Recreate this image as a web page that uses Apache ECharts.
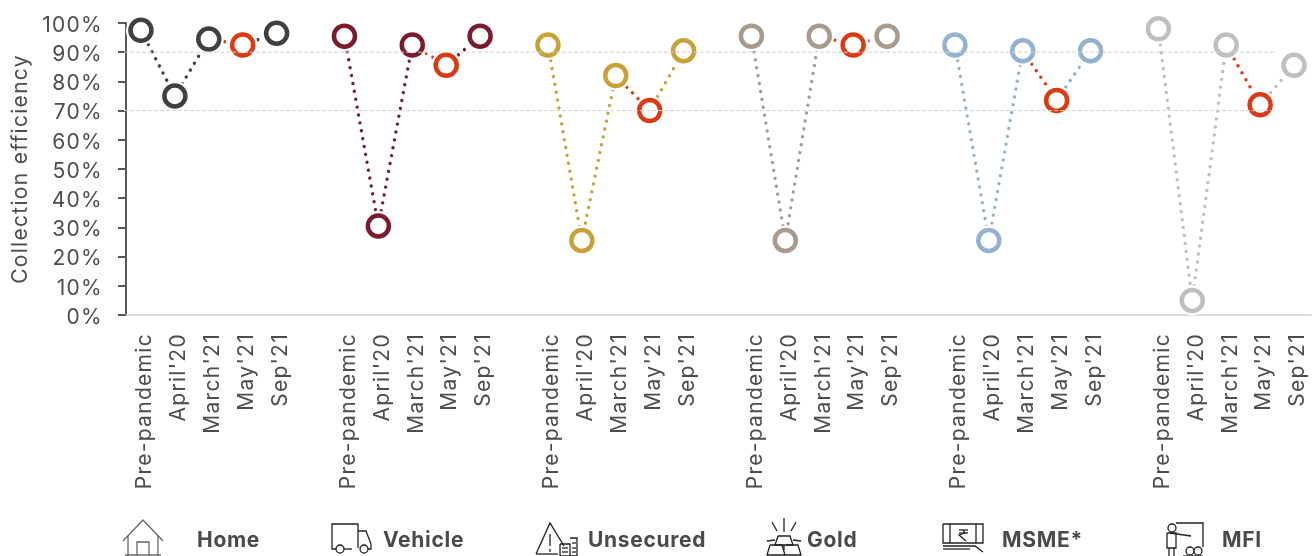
<!DOCTYPE html>
<html><head><meta charset="utf-8">
<style>html,body{margin:0;padding:0;background:#fff}#c{width:1315px;height:556px}</style>
<script src="https://cdn.jsdelivr.net/npm/echarts@6/dist/echarts.min.js"></script>
</head><body><div id="c"></div>
<script>
const periods = ["Pre-pandemic","April'20","March'21","May'21","Sep'21"];
const groupNames = ["Home","Vehicle","Unsecured","Gold","MSME*","MFI"];
const home = [97.5,75,94.5,92.5,96.5];
const vehicle = [95.5,30.5,92.5,85.5,95.5];
const unsecured = [92.5,25.5,82,70,90.5];
const gold = [95.5,25.5,95.5,92.5,95.5];
const msme = [92.5,25.5,90.5,73.5,90.5];
const mfi = [98,5,92.5,72,85.5];
const groupValues = [home,vehicle,unsecured,gold,msme,mfi];
const groupColors = ["#404040","#7B1C2E","#C9A237","#A89B8C","#92B2D0","#BFBFBF"];
const highlightColor = "#DC3A12";
const thresholds = [90,70];
const FONT = "Inter";
const TXT = "#4D4D4D";

// the reference's type is tracked out: apply letter spacing to canvas text
const nativeFillText = CanvasRenderingContext2D.prototype.fillText;
CanvasRenderingContext2D.prototype.fillText = function(t,x,y,m){
  this.letterSpacing = /bold|700/.test(this.font) ? '0.7px' : '1.3px';
  return m===undefined ? nativeFillText.call(this,t,x,y) : nativeFillText.call(this,t,x,y,m);
};

const slots = 6;
const categories = [];
groupNames.forEach((g,i)=>{ periods.forEach(p=>categories.push(p)); if(i<groupNames.length-1) categories.push(""); });

const series = [];
const dotted = c => ({color:c,width:3.4,type:[0.01,8],cap:'round'});
function seg(vals,g,a,b,color){
  const d=[]; for(let k=a;k<=b;k++) d.push([g*slots+k,vals[k]]);
  series.push({type:'line',data:d,showSymbol:false,silent:true,z:2,lineStyle:dotted(color)});
}
groupValues.forEach((vals,g)=>{
  seg(vals,g,0,2,groupColors[g]);
  seg(vals,g,2,3,highlightColor);
  seg(vals,g,3,4,groupColors[g]);
  const pts = vals.map((v,k)=>[g*slots+k,v]);
  series.push({type:'scatter',data:pts,symbolSize:30,silent:true,z:3,itemStyle:{color:'#fff',opacity:1}});
  series.push({type:'scatter',data:pts.map((p,k)=>({value:p,itemStyle:{borderColor:k===3?highlightColor:groupColors[g]}})),
    symbol:'circle',symbolSize:21,silent:true,z:4,itemStyle:{color:'rgba(255,255,255,0)',borderWidth:4.5,opacity:1}});
});
thresholds.forEach(t=>{
  series.push({type:'line',xAxisIndex:1,yAxisIndex:0,data:[[0,t],[0.971,t]],showSymbol:false,silent:true,z:5,
    lineStyle:{color:'#D4D4D4',width:1,type:[4,2]}});
});

const dark = "#222";
const icons = [
 {c:'#666',lines:[[[123,541],[143,520],[163,541]],[[128,536],[128,556]],[[158,536],[158,556]],[[125,555],[161,555]],[[137,556],[137,542],[149,542],[149,556]]],rings:[]},
 {c:dark,lines:[[[336,549],[332,549],[332,524],[358,524],[358,548]],[[344,549],[352,549]],[[358,531],[366,531],[371,544],[371,549],[368,549]]],rings:[[340,549,4],[364,549,4]]},
 {c:dark,lines:[[[536,554],[550,523],[564,546]],[[536,554],[558,554]],[[550,534],[550,546]],[[550,549],[550,552]],[[560,544],[570,544],[570,556],[560,556],[560,544]],[[570,538],[577,538],[577,556],[570,556]],[[562,548],[568,548]],[[562,552],[568,552]],[[572,543],[576,543]],[[572,548],[576,548]],[[572,552],[576,552]]],rings:[]},
 {c:dark,lines:[[[784,518],[784,532]],[[772,522],[777,531]],[[796,522],[791,531]],[[767,541],[775,540]],[[801,541],[793,540]],[[778,536],[790,536],[793,545],[775,545],[778,536]],[[770,545],[782,545],[785,555],[767,555],[770,545]],[[786,545],[798,545],[801,555],[785,555]],[[784,545],[784,550]]],rings:[]},
 {c:dark,lines:[[[943,524],[983,524],[983,543],[943,543],[943,524]],[[950,524],[950,543]],[[976,524],[976,543]],[[943,546],[975,546],[983,552]],[[943,549],[970,549]],[[959,530],[968,530]],[[959,533],[968,533]],[[963,530],[965,533],[959,535],[966,541]]],rings:[]},
 {c:dark,lines:[[[1176,523],[1203,523],[1203,547]],[[1170,533],[1191,536]],[[1167,533],[1176,533],[1176,548],[1167,548],[1167,533]],[[1169,548],[1169,556]],[[1174,548],[1174,556]],[[1183,556],[1203,556]]],rings:[[1172,528,4],[1190,551,4],[1198,551,4]]}
];
const labelX = [197,383,588,807,1002,1222];
const graphics = [];
icons.forEach(ic=>{
  ic.lines.forEach(pts=>graphics.push({type:'polyline',silent:true,shape:{points:pts},style:{fill:null,stroke:ic.c,lineWidth:1.3}}));
  ic.rings.forEach(r=>graphics.push({type:'circle',silent:true,shape:{cx:r[0],cy:r[1],r:r[2]},style:{fill:'#fff',stroke:ic.c,lineWidth:1.3}}));
});
groupNames.forEach((n,i)=>graphics.push({type:'text',silent:true,x:labelX[i],y:541,
  style:{text:n,fill:'#4A4A4A',font:'bold 21px "'+FONT+'"',textVerticalAlign:'middle'}}));

const chart = echarts.init(document.getElementById('c'),null,{renderer:'canvas'});
chart.setOption({
  animation:false,backgroundColor:'#fff',
  grid:{left:124,top:23,width:1187,height:292},
  xAxis:[
    {type:'category',data:categories,boundaryGap:true,position:'bottom',
     axisLine:{lineStyle:{color:'#D9D9D9',width:2}},axisTick:{show:false},
     axisLabel:{interval:0,rotate:90,margin:18,
       formatter:v=>v?'{a|'+v+'}':'',
       rich:{a:{fontFamily:FONT,fontSize:21,color:TXT,padding:[8,0,0,0]}}}},
    {type:'value',min:0,max:1,show:false}
  ],
  yAxis:{type:'value',min:0,max:100,interval:10,offset:-2,
    axisLine:{show:true,lineStyle:{color:'#595959',width:2}},
    axisTick:{show:true,length:8,lineStyle:{color:'#595959',width:2}},
    axisLabel:{margin:23,formatter:'{a|{value}%}',
       rich:{a:{fontFamily:FONT,fontSize:21,color:TXT,padding:[5,0,0,0]}}},
    splitLine:{show:false},
    name:'Collection efficiency',nameLocation:'middle',nameGap:95,nameRotate:90,
    nameTextStyle:{fontFamily:FONT,fontSize:21,color:TXT}},
  series,graphic:{elements:graphics}
});
</script></body></html>
